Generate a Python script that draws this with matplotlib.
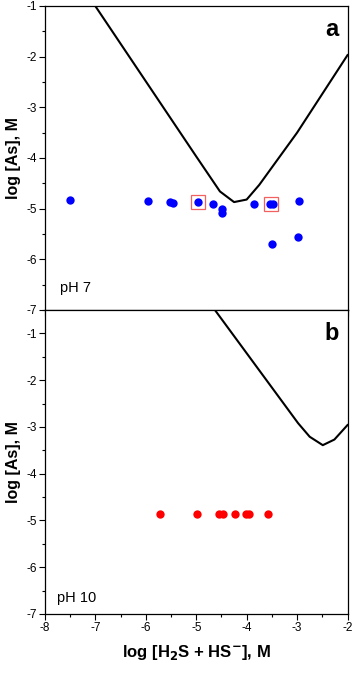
import numpy as np
import matplotlib
matplotlib.use("Agg")
import matplotlib.pyplot as plt
from matplotlib.ticker import MultipleLocator

plt.rcParams['font.family'] = ['Liberation Sans', 'DejaVu Sans']

# pH 7 solubility curve
curve7_x = [-7.05, -5.0, -4.53, -4.25, -4.0, -3.75, -3.0, -2.0]
curve7_y = [-0.93, -3.97, -4.66, -4.87, -4.82, -4.53, -3.5, -1.97]
# pH 7 measured points
pts7_x = [-7.50, -5.95, -5.52, -5.47, -4.96, -4.66, -4.48, -4.48, -3.85, -3.53, -3.48, -2.96, -3.49, -2.99]
pts7_y = [-4.83, -4.85, -4.87, -4.88, -4.86, -4.91, -5.01, -5.08, -4.90, -4.91, -4.91, -4.85, -5.70, -5.55]
boxed7_x = [-4.96, -3.51]
boxed7_y = [-4.86, -4.91]

# pH 10 solubility curve
curve10_x = [-4.63, -2.98, -2.75, -2.49, -2.26, -2.0]
curve10_y = [-0.5, -2.92, -3.21, -3.39, -3.27, -2.96]
# pH 10 measured points
pts10_x = [-5.72, -4.98, -4.55, -4.47, -4.24, -4.01, -3.96, -3.57]
pts10_y = [-4.86, -4.86, -4.86, -4.86, -4.86, -4.86, -4.86, -4.86]

fig = plt.figure(figsize=(3.54, 6.73), dpi=100)
ax1 = fig.add_axes([45/354, 1-310/673, 302.5/354, 304/673])
ax2 = fig.add_axes([45/354, 1-614/673, 302.5/354, 304/673])

ax1.plot(curve7_x, curve7_y, 'k-', lw=1.5)
ax1.plot(pts7_x, pts7_y, 'o', color='#0000ff', ms=6, mec='none')
ax1.plot(boxed7_x, boxed7_y, 's', mfc='none', mec='#f26060', ms=10, mew=0.9)
ax1.set_ylim(-7, -1)
ax1.text(0.97, 0.96, 'a', transform=ax1.transAxes, ha='right', va='top',
         fontsize=17, fontweight='bold')
ax1.text(0.05, 0.05, 'pH 7', transform=ax1.transAxes, ha='left', va='bottom', fontsize=10.5)

ax2.plot(curve10_x, curve10_y, 'k-', lw=1.5)
ax2.plot(pts10_x, pts10_y, 'o', color='#ff0000', ms=6, mec='none')
ax2.set_ylim(-7, -0.5)
ax2.text(0.97, 0.96, 'b', transform=ax2.transAxes, ha='right', va='top',
         fontsize=17, fontweight='bold')
ax2.text(0.04, 0.03, 'pH 10', transform=ax2.transAxes, ha='left', va='bottom', fontsize=10.5)

for ax in (ax1, ax2):
    ax.set_xlim(-8, -2)
    ax.xaxis.set_major_locator(MultipleLocator(1))
    ax.xaxis.set_minor_locator(MultipleLocator(0.5))
    ax.yaxis.set_major_locator(MultipleLocator(1))
    ax.yaxis.set_minor_locator(MultipleLocator(0.5))
    ax.tick_params(which='both', direction='out', labelsize=8.5, width=0.8, pad=2)
    ax.tick_params(which='major', length=4)
    ax.tick_params(which='minor', length=2.5)
    for s in ax.spines.values():
        s.set_linewidth(0.9)
    ax.set_ylabel('log [As], M', fontsize=11.5, fontweight='bold', labelpad=4)
    ax.set_yticks([-7, -6, -5, -4, -3, -2, -1])
    ax.set_yticklabels(['-7', '-6', '-5', '-4', '-3', '-2', '-1'])

ax1.tick_params(labelbottom=False)
ax2.set_xticks([-8, -7, -6, -5, -4, -3, -2])
ax2.set_xticklabels(['-8', '-7', '-6', '-5', '-4', '-3', '-2'])
ax2.set_xlabel(r'log [H$_\mathbf{2}$S + HS$^{\mathbf{-}}$], M', fontsize=12, fontweight='bold', labelpad=6)

fig.savefig('out.png', dpi=100)
